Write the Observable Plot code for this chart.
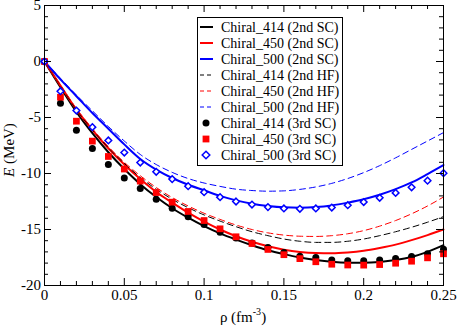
<!DOCTYPE html>
<html><head><meta charset="utf-8">
<script src="https://cdn.jsdelivr.net/npm/d3@7"></script>
<script src="https://cdn.jsdelivr.net/npm/@observablehq/plot@0.6"></script>
<style>html,body{margin:0;padding:0;background:#fff}svg{display:block}</style>
</head><body><div id="chart"></div>
<script>
// density grid (fm^-3)
const rho = [0,0.01,0.02,0.03,0.04,0.05,0.06,0.07,0.08,0.09,0.10,0.11,0.12,0.13,0.14,0.15,0.16,0.17,0.18,0.19,0.20,0.21,0.22,0.23,0.24,0.25];
// 2nd-order SC (solid)
const sc414 = [0,-2.3,-4.5,-6.4,-8.1,-9.6,-10.95,-12.1,-13.1,-13.95,-14.7,-15.35,-15.9,-16.4,-16.85,-17.2,-17.5,-17.72,-17.88,-17.96,-17.97,-17.9,-17.73,-17.45,-17.0,-16.4];
const sc450 = [0,-2.15,-4.3,-6.1,-7.75,-9.2,-10.5,-11.65,-12.6,-13.5,-14.3,-15.0,-15.6,-16.1,-16.5,-16.8,-17.0,-17.1,-17.12,-17.05,-16.9,-16.65,-16.35,-15.95,-15.5,-15.0];
const sc500 = [0,-1.6,-3.1,-4.6,-6.0,-7.4,-8.7,-9.65,-10.4,-11.0,-11.5,-12.0,-12.4,-12.7,-12.9,-13.02,-13.05,-13.0,-12.85,-12.6,-12.3,-11.9,-11.4,-10.8,-10.05,-9.25];
// 2nd-order HF (dashed)
const hf414 = [0,-2.15,-4.3,-6.1,-7.7,-9.1,-10.35,-11.4,-12.3,-13.05,-13.7,-14.25,-14.75,-15.2,-15.55,-15.85,-16.05,-16.15,-16.15,-16.05,-15.85,-15.55,-15.2,-14.8,-14.35,-13.85];
const hf450 = [0,-2.1,-4.2,-6.0,-7.6,-9.0,-10.2,-11.25,-12.15,-12.9,-13.55,-14.1,-14.6,-15.0,-15.3,-15.5,-15.6,-15.62,-15.55,-15.38,-15.1,-14.7,-14.2,-13.6,-12.9,-12.1];
const hf500 = [0,-1.5,-3.0,-4.4,-5.8,-7.1,-8.3,-9.2,-9.9,-10.45,-10.85,-11.15,-11.4,-11.52,-11.58,-11.55,-11.42,-11.2,-10.88,-10.45,-9.92,-9.3,-8.6,-7.85,-7.1,-6.35];
// 3rd-order SC (symbols)
const p414 = [0,-3.72,-6.13,-7.77,-9.2,-10.4,-11.34,-12.29,-13.1,-13.87,-14.55,-15.24,-15.77,-16.2,-16.6,-17.05,-17.38,-17.5,-17.72,-17.8,-17.8,-17.72,-17.6,-17.42,-17.17,-16.76];
const p450 = [0,-3.19,-5.33,-7.11,-8.48,-9.6,-10.68,-11.7,-12.56,-13.39,-14.2,-14.94,-15.65,-16.25,-16.78,-17.25,-17.6,-17.88,-18.1,-18.17,-18.18,-18.13,-18.01,-17.83,-17.53,-17.17];
const p500 = [0,-2.65,-4.38,-5.86,-7.05,-8.13,-9.02,-9.85,-10.5,-11.13,-11.67,-12.11,-12.5,-12.77,-13.0,-13.12,-13.15,-13.12,-13.04,-12.83,-12.55,-12.17,-11.73,-11.23,-10.64,-9.97];

const legendNames = ["Chiral_414 (2nd SC)","Chiral_450 (2nd SC)","Chiral_500 (2nd SC)","Chiral_414 (2nd HF)","Chiral_450 (2nd HF)","Chiral_500 (2nd HF)","Chiral_414 (3rd SC)","Chiral_450 (3rd SC)","Chiral_500 (3rd SC)"];
const xMajor = [0,0.05,0.1,0.15,0.2,0.25];
const xTickLabels = ["0","0.05","0.1","0.15","0.2","0.25"];
const yMajor = [5,0,-5,-10,-15,-20];
const yTickLabels = ["5","0","-5","-10","-15","-20"];
const xMinor = d3.range(0,26).map(i=>i/100).filter(v=>Math.round(v*100)%5!==0);
const yMinor = d3.range(-20,6).filter(v=>v%5!==0);

const rows = vals => rho.map((r,i)=>({rho:r, E:vals[i]}));
const W=458,H=327,ML=44,MR=15,MT=5,MB=42;
const FH=H-MT-MB, FW=W-ML-MR;
const BLACK="#000000", RED="#ff0000", BLUE="#0000ff";
const DASH="6,4";
const SERIF="'Liberation Serif','Times New Roman',serif";

const solid = (v,c)=>Plot.line(rows(v),{x:"rho",y:"E",stroke:c,strokeWidth:2,curve:"monotone-x"});
const dashed = (v,c)=>Plot.line(rows(v),{x:"rho",y:"E",stroke:c,strokeWidth:1,strokeDasharray:DASH,curve:"monotone-x"});

const plot = Plot.plot({
  width:W, height:H, marginLeft:ML, marginRight:MR, marginTop:MT, marginBottom:MB,
  style:{fontFamily:SERIF, fontSize:"15px", background:"#fff", color:"#000"},
  x:{domain:[0,0.25]}, y:{domain:[-20,5]},
  marks:[
    solid(sc414,BLACK), solid(sc450,RED), solid(sc500,BLUE),
    dashed(hf414,BLACK), dashed(hf450,RED), dashed(hf500,BLUE),
    Plot.dot(rows(p414),{x:"rho",y:"E",symbol:"circle",r:3.5,fill:BLACK}),
    Plot.dot(rows(p450),{x:"rho",y:"E",symbol:"square",r:3.8,fill:RED}),
    Plot.dot(rows(p500),{x:"rho",y:"E",symbol:"diamond2",r:3,fill:"#fff",stroke:BLUE,strokeWidth:1.5}),
    // inward ticks on all sides
    Plot.tickX(xMajor,{x:d=>d,insetTop:FH-7}),
    Plot.tickX(xMajor,{x:d=>d,insetBottom:FH-7}),
    Plot.tickX(xMinor,{x:d=>d,insetTop:FH-4}),
    Plot.tickX(xMinor,{x:d=>d,insetBottom:FH-4}),
    Plot.tickY(yMajor,{y:d=>d,insetRight:FW-7}),
    Plot.tickY(yMajor,{y:d=>d,insetLeft:FW-7}),
    Plot.tickY(yMinor,{y:d=>d,insetRight:FW-4}),
    Plot.tickY(yMinor,{y:d=>d,insetLeft:FW-4}),
    Plot.frame({stroke:BLACK}),
    Plot.axisX({ticks:xMajor,tickSize:0,tickPadding:4,tickFormat:d=>xTickLabels[xMajor.indexOf(d)],label:null}),
    Plot.axisY({ticks:yMajor,tickSize:0,tickPadding:3.5,tickFormat:d=>yTickLabels[yMajor.indexOf(d)],label:null})
  ]
});
document.getElementById("chart").appendChild(plot);

// legend
const svg = d3.select(plot);
const lg = svg.append("g").attr("font-family",SERIF).attr("font-size","14px").attr("text-anchor","start");
lg.append("rect").attr("x",197.5).attr("y",17.5).attr("width",145).attr("height",148)
  .attr("fill","#ffffff").attr("stroke","#000000").attr("stroke-width",1);
const legColors=[BLACK,RED,BLUE,BLACK,RED,BLUE,BLACK,RED,BLUE];
legendNames.forEach((name,i)=>{
  const cy = 27+16*i;
  if(i<6){
    lg.append("line").attr("x1",200).attr("x2",213).attr("y1",cy).attr("y2",cy)
      .attr("stroke",legColors[i]).attr("stroke-width",i<3?2:1).attr("stroke-dasharray",i<3?null:"4,3");
  } else if(i===6){
    lg.append("circle").attr("cx",206).attr("cy",cy).attr("r",3.5).attr("fill",BLACK);
  } else if(i===7){
    lg.append("rect").attr("x",202.6).attr("y",cy-3.4).attr("width",6.8).attr("height",6.8).attr("fill",RED);
  } else {
    lg.append("path").attr("d",`M206,${cy-3.8}L209.8,${cy}L206,${cy+3.8}L202.2,${cy}Z`).attr("fill","#fff").attr("stroke",BLUE).attr("stroke-width",1.5);
  }
  lg.append("text").attr("x",221).attr("y",cy+5).attr("fill","#000").attr("text-anchor","start").text(name);
});

// axis titles
const yt = svg.append("text").attr("transform","translate(14,150) rotate(-90)").attr("text-anchor","middle")
  .attr("font-family",SERIF).attr("font-size","15px").attr("fill","#000");
yt.append("tspan").attr("font-style","italic").text("E");
yt.append("tspan").text(" (MeV)");
const xt = svg.append("text").attr("x",243).attr("y",322).attr("text-anchor","middle")
  .attr("font-family",SERIF).attr("font-size","15px").attr("fill","#000");
xt.append("tspan").text("ρ (fm");
xt.append("tspan").attr("dy",-7).attr("font-size","10px").text("-3");
xt.append("tspan").attr("dy",7).text(")");
</script>
</body></html>
